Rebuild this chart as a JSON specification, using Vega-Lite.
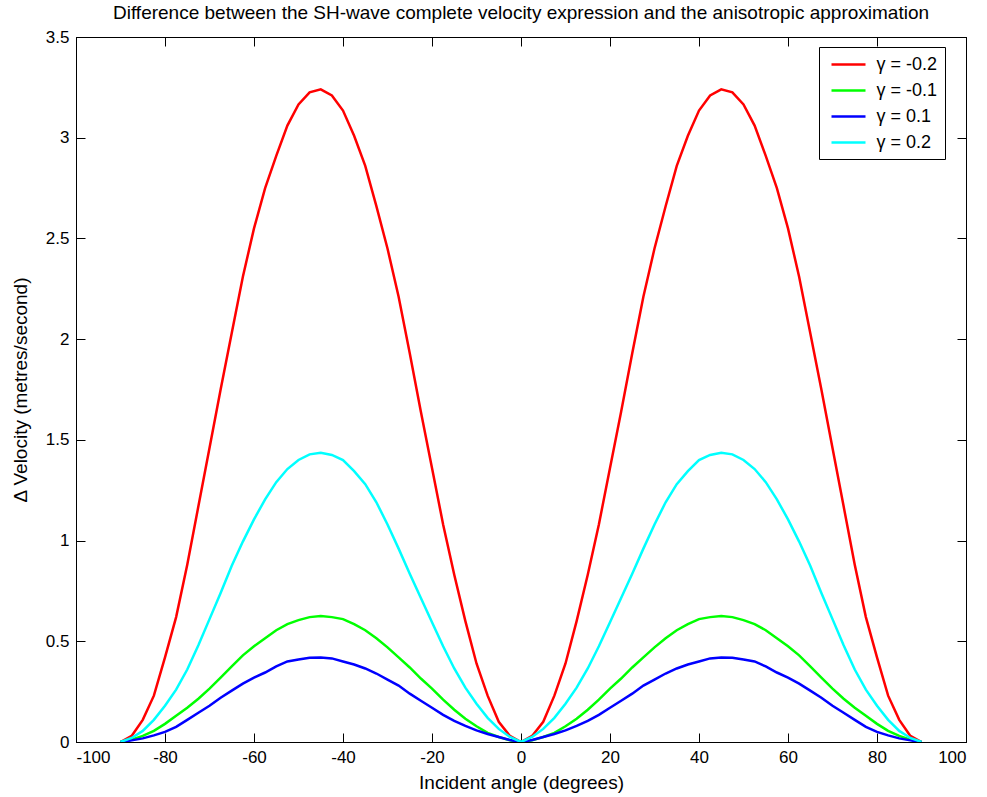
{
  "$schema": "https://vega.github.io/schema/vega-lite/v6.json",
  "width": 890,
  "height": 705,
  "autosize": {"type": "none"},
  "padding": {"left": 76, "top": 37, "right": 21, "bottom": 55},
  "background": "white",
  "config": {
    "font": "Liberation Sans",
    "view": {"stroke": "black", "strokeWidth": 1},
    "axis": {
      "domainColor": "black",
      "domainWidth": 1,
      "tickColor": "black",
      "tickSize": -9,
      "labelColor": "black",
      "titleColor": "black",
      "labelFont": "Liberation Sans",
      "titleFont": "Liberation Sans",
      "labelFontSize": 17,
      "titleFontSize": 19,
      "titleFontWeight": "normal",
      "labelPadding": 16,
      "grid": false
    }
  },
  "title": {
    "text": "Difference between the SH-wave complete velocity expression and the anisotropic approximation",
    "font": "Liberation Sans",
    "fontSize": 19,
    "fontWeight": "normal",
    "color": "black",
    "anchor": "middle",
    "offset": 5
  },
  "data": {
    "values": [
      {"a": -90, "s1": 0, "s2": 0, "s3": 0, "s4": 0},
      {"a": -87.5, "s1": 0.03, "s2": 0.012, "s3": 0.008, "s4": 0.02},
      {"a": -85, "s1": 0.11, "s2": 0.03, "s3": 0.018, "s4": 0.055},
      {"a": -82.5, "s1": 0.23, "s2": 0.055, "s3": 0.033, "s4": 0.11},
      {"a": -80, "s1": 0.42, "s2": 0.09, "s3": 0.05, "s4": 0.18},
      {"a": -77.5, "s1": 0.62, "s2": 0.13, "s3": 0.075, "s4": 0.26},
      {"a": -75, "s1": 0.88, "s2": 0.17, "s3": 0.11, "s4": 0.36},
      {"a": -72.5, "s1": 1.17, "s2": 0.215, "s3": 0.145, "s4": 0.48},
      {"a": -70, "s1": 1.46, "s2": 0.265, "s3": 0.18, "s4": 0.61},
      {"a": -67.5, "s1": 1.75, "s2": 0.32, "s3": 0.22, "s4": 0.74},
      {"a": -65, "s1": 2.03, "s2": 0.375, "s3": 0.255, "s4": 0.875},
      {"a": -62.5, "s1": 2.31, "s2": 0.43, "s3": 0.29, "s4": 0.995},
      {"a": -60, "s1": 2.55, "s2": 0.475, "s3": 0.32, "s4": 1.105},
      {"a": -57.5, "s1": 2.75, "s2": 0.515, "s3": 0.345, "s4": 1.205},
      {"a": -55, "s1": 2.91, "s2": 0.555, "s3": 0.375, "s4": 1.29},
      {"a": -52.5, "s1": 3.06, "s2": 0.585, "s3": 0.4, "s4": 1.355},
      {"a": -50, "s1": 3.165, "s2": 0.605, "s3": 0.41, "s4": 1.4},
      {"a": -47.5, "s1": 3.225, "s2": 0.62, "s3": 0.418, "s4": 1.428},
      {"a": -45, "s1": 3.24, "s2": 0.626, "s3": 0.42, "s4": 1.436},
      {"a": -42.5, "s1": 3.21, "s2": 0.62, "s3": 0.415, "s4": 1.425},
      {"a": -40, "s1": 3.135, "s2": 0.61, "s3": 0.4, "s4": 1.4},
      {"a": -37.5, "s1": 3.01, "s2": 0.585, "s3": 0.385, "s4": 1.345},
      {"a": -35, "s1": 2.86, "s2": 0.555, "s3": 0.365, "s4": 1.28},
      {"a": -32.5, "s1": 2.66, "s2": 0.515, "s3": 0.34, "s4": 1.19},
      {"a": -30, "s1": 2.45, "s2": 0.47, "s3": 0.31, "s4": 1.08},
      {"a": -27.5, "s1": 2.21, "s2": 0.42, "s3": 0.28, "s4": 0.96},
      {"a": -25, "s1": 1.93, "s2": 0.37, "s3": 0.24, "s4": 0.835},
      {"a": -22.5, "s1": 1.64, "s2": 0.315, "s3": 0.205, "s4": 0.715},
      {"a": -20, "s1": 1.36, "s2": 0.265, "s3": 0.17, "s4": 0.595},
      {"a": -17.5, "s1": 1.08, "s2": 0.21, "s3": 0.135, "s4": 0.475},
      {"a": -15, "s1": 0.83, "s2": 0.16, "s3": 0.105, "s4": 0.365},
      {"a": -12.5, "s1": 0.6, "s2": 0.115, "s3": 0.08, "s4": 0.27},
      {"a": -10, "s1": 0.39, "s2": 0.078, "s3": 0.058, "s4": 0.19},
      {"a": -7.5, "s1": 0.23, "s2": 0.045, "s3": 0.04, "s4": 0.12},
      {"a": -5, "s1": 0.1, "s2": 0.025, "s3": 0.025, "s4": 0.065},
      {"a": -2.5, "s1": 0.03, "s2": 0.008, "s3": 0.01, "s4": 0.025},
      {"a": 0, "s1": 0, "s2": 0, "s3": 0, "s4": 0},
      {"a": 2.5, "s1": 0.03, "s2": 0.008, "s3": 0.01, "s4": 0.025},
      {"a": 5, "s1": 0.1, "s2": 0.025, "s3": 0.025, "s4": 0.065},
      {"a": 7.5, "s1": 0.23, "s2": 0.045, "s3": 0.04, "s4": 0.12},
      {"a": 10, "s1": 0.39, "s2": 0.078, "s3": 0.058, "s4": 0.19},
      {"a": 12.5, "s1": 0.6, "s2": 0.115, "s3": 0.08, "s4": 0.27},
      {"a": 15, "s1": 0.83, "s2": 0.16, "s3": 0.105, "s4": 0.365},
      {"a": 17.5, "s1": 1.08, "s2": 0.21, "s3": 0.135, "s4": 0.475},
      {"a": 20, "s1": 1.36, "s2": 0.265, "s3": 0.17, "s4": 0.595},
      {"a": 22.5, "s1": 1.64, "s2": 0.315, "s3": 0.205, "s4": 0.715},
      {"a": 25, "s1": 1.93, "s2": 0.37, "s3": 0.24, "s4": 0.835},
      {"a": 27.5, "s1": 2.21, "s2": 0.42, "s3": 0.28, "s4": 0.96},
      {"a": 30, "s1": 2.45, "s2": 0.47, "s3": 0.31, "s4": 1.08},
      {"a": 32.5, "s1": 2.66, "s2": 0.515, "s3": 0.34, "s4": 1.19},
      {"a": 35, "s1": 2.86, "s2": 0.555, "s3": 0.365, "s4": 1.28},
      {"a": 37.5, "s1": 3.01, "s2": 0.585, "s3": 0.385, "s4": 1.345},
      {"a": 40, "s1": 3.135, "s2": 0.61, "s3": 0.4, "s4": 1.4},
      {"a": 42.5, "s1": 3.21, "s2": 0.62, "s3": 0.415, "s4": 1.425},
      {"a": 45, "s1": 3.24, "s2": 0.626, "s3": 0.42, "s4": 1.436},
      {"a": 47.5, "s1": 3.225, "s2": 0.62, "s3": 0.418, "s4": 1.428},
      {"a": 50, "s1": 3.165, "s2": 0.605, "s3": 0.41, "s4": 1.4},
      {"a": 52.5, "s1": 3.06, "s2": 0.585, "s3": 0.4, "s4": 1.355},
      {"a": 55, "s1": 2.91, "s2": 0.555, "s3": 0.375, "s4": 1.29},
      {"a": 57.5, "s1": 2.75, "s2": 0.515, "s3": 0.345, "s4": 1.205},
      {"a": 60, "s1": 2.55, "s2": 0.475, "s3": 0.32, "s4": 1.105},
      {"a": 62.5, "s1": 2.31, "s2": 0.43, "s3": 0.29, "s4": 0.995},
      {"a": 65, "s1": 2.03, "s2": 0.375, "s3": 0.255, "s4": 0.875},
      {"a": 67.5, "s1": 1.75, "s2": 0.32, "s3": 0.22, "s4": 0.74},
      {"a": 70, "s1": 1.46, "s2": 0.265, "s3": 0.18, "s4": 0.61},
      {"a": 72.5, "s1": 1.17, "s2": 0.215, "s3": 0.145, "s4": 0.48},
      {"a": 75, "s1": 0.88, "s2": 0.17, "s3": 0.11, "s4": 0.36},
      {"a": 77.5, "s1": 0.62, "s2": 0.13, "s3": 0.075, "s4": 0.26},
      {"a": 80, "s1": 0.42, "s2": 0.09, "s3": 0.05, "s4": 0.18},
      {"a": 82.5, "s1": 0.23, "s2": 0.055, "s3": 0.033, "s4": 0.11},
      {"a": 85, "s1": 0.11, "s2": 0.03, "s3": 0.018, "s4": 0.055},
      {"a": 87.5, "s1": 0.03, "s2": 0.012, "s3": 0.008, "s4": 0.02},
      {"a": 90, "s1": 0, "s2": 0, "s3": 0, "s4": 0}
    ]
  },
  "transform": [{"fold": ["s1", "s2", "s3", "s4"], "as": ["gamma", "v"]}],
  "layer": [
    {
      "mark": {"type": "line", "strokeWidth": 2.5, "clip": true},
      "encoding": {
        "x": {
          "field": "a",
          "type": "quantitative",
          "scale": {"domain": [-100, 100], "nice": false, "zero": false},
          "axis": {
            "orient": "bottom",
            "title": "Incident angle (degrees)",
            "values": [-100, -80, -60, -40, -20, 0, 20, 40, 60, 80, 100],
            "labelExpr": "'' + datum.value",
            "titlePadding": 8
          }
        },
        "y": {
          "field": "v",
          "type": "quantitative",
          "scale": {"domain": [0, 3.5], "nice": false},
          "axis": {
            "orient": "left",
            "title": "Δ Velocity (metres/second)",
            "values": [0, 0.5, 1, 1.5, 2, 2.5, 3, 3.5],
            "format": "~g",
            "titlePadding": 15
          }
        },
        "color": {
          "field": "gamma",
          "type": "nominal",
          "sort": ["s1", "s2", "s3", "s4"],
          "scale": {"domain": ["s1", "s2", "s3", "s4"], "range": ["#ff0000", "#00ff00", "#0000ff", "#00ffff"]},
          "legend": {
            "title": null,
            "orient": "none",
            "legendX": 743,
            "legendY": 10,
            "strokeColor": "black",
            "fillColor": "white",
            "padding": 7.5,
            "symbolType": "M-2,0H2",
            "symbolSize": 289,
            "symbolStrokeWidth": 2.5,
            "symbolOffset": 12,
            "labelOffset": 18,
            "labelFontSize": 18,
            "labelFont": "Liberation Sans",
            "labelColor": "black",
            "rowPadding": 7,
            "labelExpr": "datum.label == 's1' ? 'γ = -0.2' : datum.label == 's2' ? 'γ = -0.1' : datum.label == 's3' ? 'γ = 0.1' : 'γ = 0.2'"
          }
        }
      }
    },
    {
      "mark": {"type": "line", "opacity": 0},
      "encoding": {
        "x": {
          "field": "a",
          "type": "quantitative",
          "scale": {"domain": [-100, 100], "nice": false, "zero": false},
          "axis": {"orient": "top", "labels": false, "title": null, "values": [-100, -80, -60, -40, -20, 0, 20, 40, 60, 80, 100]}
        },
        "y": {
          "field": "v",
          "type": "quantitative",
          "scale": {"domain": [0, 3.5], "nice": false},
          "axis": {"orient": "right", "labels": false, "title": null, "values": [0, 0.5, 1, 1.5, 2, 2.5, 3, 3.5]}
        },
        "detail": {"field": "gamma", "type": "nominal"}
      }
    }
  ],
  "resolve": {"axis": {"x": "independent", "y": "independent"}}
}
